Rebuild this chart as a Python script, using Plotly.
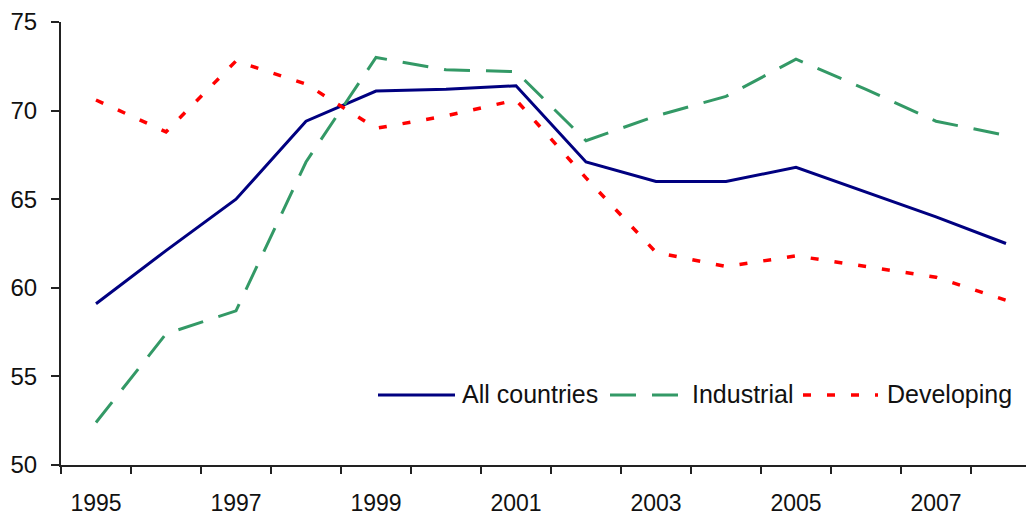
import plotly.graph_objects as go

years = list(range(1995, 2009))
all_countries = [59.1, 62.1, 65.0, 69.4, 71.1, 71.2, 71.4, 67.1, 66.0, 66.0, 66.8, 65.4, 64.0, 62.5]
industrial = [52.4, 57.4, 58.7, 67.1, 73.0, 72.3, 72.2, 68.3, 69.7, 70.8, 72.9, 71.2, 69.4, 68.6]
developing = [70.6, 68.8, 72.8, 71.5, 69.0, 69.7, 70.6, 66.2, 62.0, 61.2, 61.8, 61.2, 60.6, 59.3]
tick_years = [1995, 1997, 1999, 2001, 2003, 2005, 2007]
series_names = ["All countries", "Industrial", "Developing"]

# page body has an 8px margin, so figure coordinates = window coordinates - 8
OFF = 8
W, H = 1034, 516
L, R, T, B = 61 - OFF, 0, 22 - OFF, H - (465 - OFF)
PW, PH = W - L - R, H - T - B

colors = ["#000080", "#339966", "#FF0000"]
dashes = ["solid", "26px,16px", "8px,16px"]
widths = [3, 3, 3.5]

fig = go.Figure()
for name, vals, c, d, w in zip(series_names, [all_countries, industrial, developing], colors, dashes, widths):
    fig.add_trace(go.Scatter(x=years, y=vals, mode="lines", name=name,
                             line=dict(color=c, dash=d, width=w), showlegend=False))

font = "Liberation Sans, Arial, sans-serif"

def px_x(p):
    return (p - OFF - L) / PW

def px_y(p):
    return (H - B - (p - OFF)) / PH

# custom legend (long sample lines as in the original), window pixel positions
legend_items = [
    (378, 455, 460),
    (610, 682, 690),
    (803, 878, 885),
]
shapes = []
annotations = []
for (x0, x1, tx), name, c, d, w in zip(legend_items, series_names, colors, dashes, widths):
    shapes.append(dict(type="line", xref="paper", yref="paper",
                       x0=px_x(x0), x1=px_x(x1), y0=px_y(395), y1=px_y(395),
                       line=dict(color=c, dash=d, width=w)))
    annotations.append(dict(xref="paper", yref="paper", x=px_x(tx), y=px_y(394),
                            text=name, showarrow=False, xanchor="left", yanchor="middle",
                            font=dict(family=font, size=25, color="#111")))

fig.update_layout(
    width=W, height=H,
    margin=dict(l=L, r=R, t=T, b=B),
    paper_bgcolor="white", plot_bgcolor="white",
    font=dict(family=font, size=23, color="#111"),
    shapes=shapes, annotations=annotations,
    xaxis=dict(
        range=[1994.5, 1994.5 + PW / 70.0],
        tickmode="array", tickvals=tick_years, ticktext=[str(y) for y in tick_years],
        ticks="", showgrid=False, zeroline=False,
        showline=True, linecolor="#222", linewidth=2,
        minor=dict(tickmode="array", tickvals=[y - 0.5 for y in years] + [2008.5],
                   ticks="outside", ticklen=7, tickwidth=2, tickcolor="#222", showgrid=False),
        ticklabelstandoff=16,
        tickfont=dict(size=23),
    ),
    yaxis=dict(
        range=[50, 75], tickvals=[50, 55, 60, 65, 70, 75],
        ticks="outside", ticklen=8, tickwidth=2, tickcolor="#222",
        showgrid=False, zeroline=False,
        showline=True, linecolor="#222", linewidth=2,
        ticklabelstandoff=9,
        tickfont=dict(size=24),
    ),
)

fig.write_html("out.html")
